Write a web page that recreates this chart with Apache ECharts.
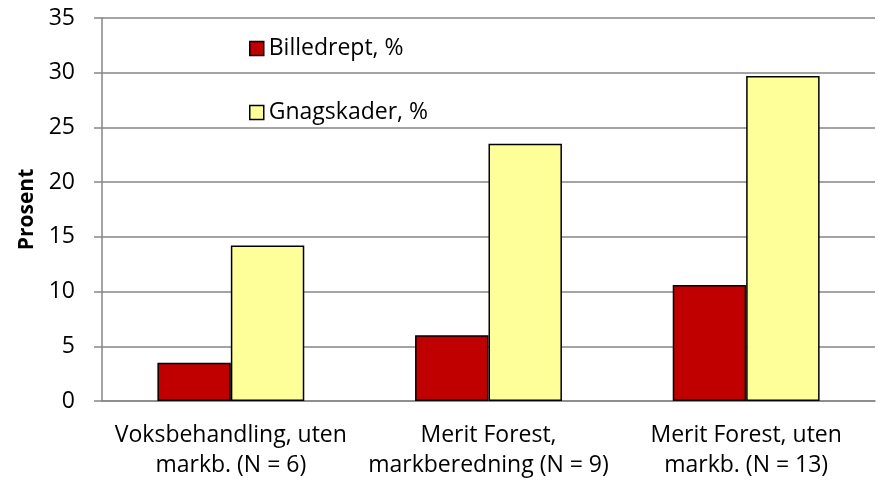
<!DOCTYPE html>
<html>
<head>
<meta charset="utf-8">
<script src="https://cdn.jsdelivr.net/npm/echarts@6/dist/echarts.min.js"></script>
<style>
  html, body { margin: 0; padding: 0; background: #fff; }
  #chart { width: 878px; height: 482px; }
</style>
</head>
<body>
<div id="chart"></div>
<script>
const categories = ['Voksbehandling, uten\nmarkb. (N = 6)', 'Merit Forest,\nmarkberedning (N = 9)', 'Merit Forest, uten\nmarkb. (N = 13)']
const billedrept = [3.5, 6.0, 10.6]
const gnagskader = [14.2, 23.5, 29.7]
const seriesNames = ['Billedrept, %', 'Gnagskader, %']

const font = '"Open Sans", sans-serif'
const chart = echarts.init(document.getElementById('chart'))

chart.setOption({
  animation: false,
  textStyle: { fontFamily: font },
  grid: { left: 102, right: 3, top: 18, bottom: 81 },
  legend: {
    orient: 'vertical',
    left: 244,
    top: 32,
    itemWidth: 14,
    itemHeight: 14,
    itemGap: 41,
    icon: 'rect',
    itemStyle: { borderColor: '#000', borderWidth: 1.5 },
    textStyle: { fontSize: 23, color: '#000', fontFamily: font, padding: [0, 0, 0, 0] },
    data: seriesNames
  },
  xAxis: {
    type: 'category',
    data: categories,
    axisLine: { lineStyle: { color: '#868686', width: 1.5 } },
    axisTick: { length: 8, lineStyle: { color: '#868686', width: 1.5 } },
    axisLabel: { interval: 0, hideOverlap: false, fontSize: 23, fontFamily: font, color: '#000', lineHeight: 30, margin: 19 }
  },
  yAxis: {
    type: 'value',
    min: 0,
    max: 35,
    interval: 5,
    name: 'Prosent',
    nameLocation: 'middle',
    nameGap: 63,
    nameTextStyle: { fontSize: 21, fontFamily: font, fontWeight: 'bold', color: '#000' },
    axisLine: { show: true, lineStyle: { color: '#868686', width: 1.5 } },
    axisTick: { show: true, length: 8, lineStyle: { color: '#868686', width: 1.5 } },
    axisLabel: { fontSize: 23, fontFamily: font, color: '#000', margin: 27 },
    splitLine: { lineStyle: { color: '#868686', width: 1.5 } }
  },
  series: [
    {
      name: seriesNames[0],
      type: 'bar',
      data: billedrept,
      barGap: '0%',
      barCategoryGap: '43%',
      itemStyle: { color: '#c00000', borderColor: '#000', borderWidth: 1.5 }
    },
    {
      name: seriesNames[1],
      type: 'bar',
      data: gnagskader,
      itemStyle: { color: '#ffff99', borderColor: '#000', borderWidth: 1.5 }
    }
  ]
})
</script>
</body>
</html>
